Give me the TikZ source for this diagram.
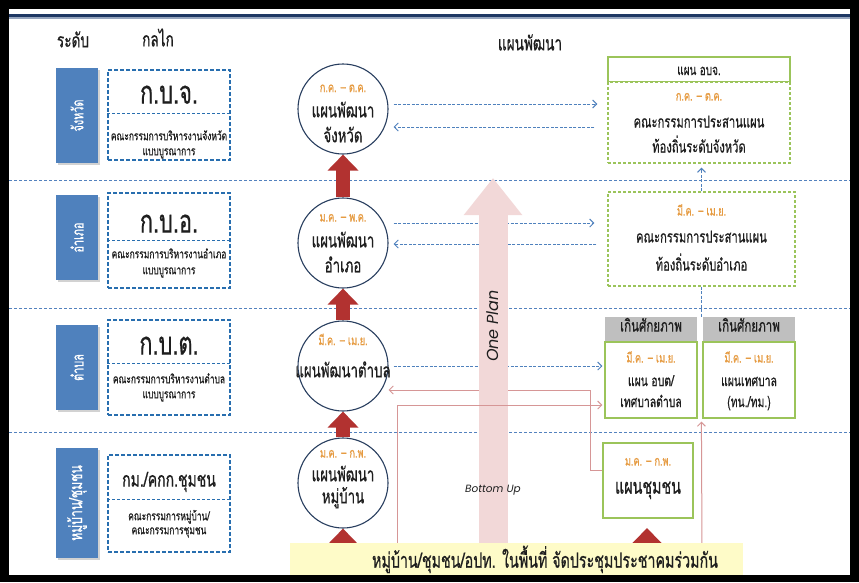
\documentclass[tikz,border=0pt]{standalone}
\usepackage{fontspec}
\setmainfont{Loma}[Script=Thai]
\newfontfamily\cnd{Loma}[Script=Thai,FakeStretch=0.68,FakeBold=0.6]
\newfontfamily\latfont{Poppins}
\usetikzlibrary{arrows.meta,calc,shadows}
\definecolor{navy}{RGB}{31,56,100}
\definecolor{navyl}{RGB}{150,165,190}
\definecolor{sepc}{RGB}{84,130,190}
\definecolor{sideb}{RGB}{79,129,189}
\definecolor{mechc}{RGB}{40,110,175}
\definecolor{circc}{RGB}{40,62,95}
\definecolor{datec}{RGB}{230,155,65}
\definecolor{greenc}{RGB}{155,196,90}
\definecolor{greyc}{RGB}{191,191,191}
\definecolor{redc}{RGB}{178,50,48}
\definecolor{pinkbig}{RGB}{242,216,216}
\definecolor{pinkln}{RGB}{214,150,150}
\definecolor{flowc}{RGB}{79,129,189}
\definecolor{yelc}{RGB}{254,251,200}
\definecolor{textc}{RGB}{30,30,30}
\pgfdeclarelayer{bgzero}
\pgfdeclarelayer{bgone}
\pgfsetlayers{bgzero,bgone,main}
\begin{document}
\begin{tikzpicture}[x=1pt,y=-1pt,
  every node/.style={inner sep=0pt, text=textc},
  tx/.style={anchor=base, font=\cnd\fontsize{#1}{#1}\selectfont},
  dt/.style={anchor=base, text=datec, font=\cnd\fontsize{#1}{#1}\selectfont},
  sep/.style={draw=sepc, dash pattern=on 3pt off 2pt, line width=0.9pt},
  sidebox/.style={fill=sideb, minimum width=42pt, text=white,
     drop shadow={shadow xshift=1.5pt, shadow yshift=-2pt, opacity=0.35}},
  mechbox/.style={draw=mechc, dash pattern=on 4pt off 2pt, line width=1.4pt, minimum width=122pt},
  mechdiv/.style={draw=mechc, dash pattern=on 3pt off 2pt, line width=0.9pt},
  plancirc/.style={circle, draw=circc, line width=1.1pt, fill=white, minimum size=90pt},
  gdash/.style={draw=greenc, dash pattern=on 3pt off 2pt, line width=1.2pt, fill=white},
  gsolid/.style={draw=greenc, line width=1.2pt, fill=white},
  greyhead/.style={fill=greyc, minimum width=92pt, minimum height=25pt},
  bflow/.style={draw=flowc, dash pattern=on 3pt off 1.5pt, line width=1pt, -{Straight Barb[length=4pt,width=8pt]}},
  pflow/.style={draw=pinkln, line width=1pt, -{Straight Barb[length=4pt,width=8pt]}},
  uparrow/.style={draw=redc, line width=14pt, -{Triangle[length=16pt,width=30pt]}},
]
\useasboundingbox (0,0) rectangle (859,582);

% ---------- nodes ----------
\node[tx=20] (hlevel) at (73,47.4) {ระดับ};
\node[tx=20] (hmech) at (158,46.4) {กลไก};
\node[tx=20] (hplan) at (530,50.4) {แผนพัฒนา};

% side level boxes
\node[sidebox, minimum height=95pt, font=\cnd\fontsize{16}{16}\selectfont] (s1) at (77,115.5) {\rotatebox{90}{จังหวัด}};
\node[sidebox, minimum height=85pt, font=\cnd\fontsize{16}{16}\selectfont] (s2) at (77,237.5) {\rotatebox{90}{อำเภอ}};
\node[sidebox, minimum height=85pt, font=\cnd\fontsize{16}{16}\selectfont] (s3) at (77,367.5) {\rotatebox{90}{ตำบล}};
\node[sidebox, minimum height=110pt, font=\cnd\fontsize{18}{18}\selectfont] (s4) at (77,503) {\rotatebox{90}{หมู่บ้าน/ชุมชน}};

% mechanism boxes
\node[mechbox, minimum height=90pt] (m1) at (169,115) {};
\node[mechbox, minimum height=95pt] (m2) at (169,240.5) {};
\node[mechbox, minimum height=95pt] (m3) at (169,367.5) {};
\node[mechbox, minimum height=97pt] (m4) at (169,503.5) {};
\draw[mechdiv] (m1.west |- 0,113) -- (m1.east |- 0,113);
\draw[mechdiv] (m2.west |- 0,240) -- (m2.east |- 0,240);
\draw[mechdiv] (m3.west |- 0,363) -- (m3.east |- 0,363);
\draw[mechdiv] (m4.west |- 0,499) -- (m4.east |- 0,499);
\node[tx=32] (m1t) at (169,103.6) {ก.บ.จ.};
\node[tx=32] (m2t) at (169,232.6) {ก.บ.อ.};
\node[tx=32] (m3t) at (169,354.6) {ก.บ.ต.};
\node[tx=20.6] (m4t) at (169,486.6) {กม./คกก.ชุมชน};
\node[tx=12.4] (m1a) at (169,140.3) {คณะกรรมการบริหารงานจังหวัด};
\node[tx=12.4] (m1b) at (169,155.3) {แบบบูรณาการ};
\node[tx=12.4] (m2a) at (169,258.3) {คณะกรรมการบริหารงานอำเภอ};
\node[tx=12.4] (m2b) at (169,274.3) {แบบบูรณาการ};
\node[tx=12.4] (m3a) at (169,383.3) {คณะกรรมการบริหารงานตำบล};
\node[tx=12.4] (m3b) at (169,398.3) {แบบบูรณาการ};
\node[tx=12.4] (m4a) at (169,520.3) {คณะกรรมการหมู่บ้าน/};
\node[tx=12.4] (m4b) at (169,534.3) {คณะกรรมการชุมชน};

% plan circles
\node[plancirc] (c1) at (343,109) {};
\node[plancirc] (c2) at (343,243) {};
\node[plancirc] (c3) at (343,366) {};
\node[plancirc] (c4) at (343,483) {};
\node[dt=13.5] (c1d) at (343,92.1) {ก.ค. – ต.ค.};
\node[tx=19.5] (c1a) at (343,117.3) {แผนพัฒนา};
\node[tx=19.5] (c1b) at (343,142.3) {จังหวัด};
\node[dt=13.5] (c2d) at (343,221.6) {ม.ค. – พ.ค.};
\node[tx=19.5] (c2a) at (343,247.3) {แผนพัฒนา};
\node[tx=19.5] (c2b) at (343,272.3) {อำเภอ};
\node[dt=13.5] (c3d) at (343,345.1) {มี.ค. – เม.ย.};
\node[tx=19.5] (c3a) at (343,377.3) {แผนพัฒนาตำบล};
\node[dt=13.5] (c4d) at (343,457.6) {ม.ค. – ก.พ.};
\node[tx=19.5] (c4a) at (343,481.3) {แผนพัฒนา};
\node[tx=19.5] (c4b) at (343,503.3) {หมู่บ้าน};

% right-hand plan boxes
\node[gsolid, minimum width=182pt, minimum height=25pt] (pjh) at (699,69.5) {};
\node[gdash, minimum width=182pt, minimum height=81pt] (pjb) at (699,122.5) {};
\node[tx=14.7] (pjht) at (699,75) {แผน อบจ.};
\node[dt=13.5] (pjd) at (699,100.6) {ก.ค. – ต.ค.};
\node[tx=16.5] (pja) at (699,127.5) {คณะกรรมการประสานแผน};
\node[tx=16.5] (pjc) at (699,152.5) {ท้องถิ่นระดับจังหวัด};

\node[gdash, minimum width=187pt, minimum height=94pt] (pab) at (701.5,239) {};
\node[dt=13.5] (pad) at (701.5,215.6) {มี.ค. – เม.ย.};
\node[tx=16.5] (paa) at (701.5,242.5) {คณะกรรมการประสานแผน};
\node[tx=16.5] (pac) at (701.5,270.5) {ท้องถิ่นระดับอำเภอ};

\node[greyhead] (t1h) at (651,329.5) {};
\node[greyhead] (t2h) at (749,329.5) {};
\node[tx=17] (t1ht) at (651,331.6) {เกินศักยภาพ};
\node[tx=17] (t2ht) at (749,331.6) {เกินศักยภาพ};
\node[gsolid, minimum width=92pt, minimum height=76pt] (t1b) at (651,380) {};
\node[gsolid, minimum width=92pt, minimum height=76pt] (t2b) at (749,380) {};
\node[dt=13.5] (t1d) at (651,362.6) {มี.ค. – เม.ย.};
\node[tx=15.3] (t1a) at (651,386.1) {แผน อบต/};
\node[tx=15.3] (t1c) at (651,407.1) {เทศบาลตำบล};
\node[dt=13.5] (t2d) at (749,362.6) {มี.ค. – เม.ย.};
\node[tx=15.3] (t2a) at (749,386.1) {แผนเทศบาล};
\node[tx=15.3] (t2c) at (749,407.1) {(ทน./ทม.)};

\node[gsolid, minimum width=90pt, minimum height=75pt] (cm) at (648,480.5) {};
\node[dt=13.5] (cmd) at (648,465.6) {ม.ค. – ก.พ.};
\node[tx=21] (cma) at (648,493.7) {แผนชุมชน};

% centre labels
\node[anchor=center, rotate=90, font=\latfont\itshape\fontsize{16}{16}\selectfont] (oneplan) at (493,326) {One Plan};
\node[anchor=center, font=\latfont\itshape\fontsize{10.5}{10.5}\selectfont] (bup) at (493,490) {Bottom Up};

% bottom band
\node[fill=yelc, minimum width=453pt, minimum height=32pt] (yel) at (516.5,559) {};
\node[tx=21] (yelt) at (545,567.7) {หมู่บ้าน/ชุมชน/อปท. ในพื้นที่ จัดประชุมประชาคมร่วมกัน};

% ---------- layer 0: frame, separators, flows ----------
\begin{pgfonlayer}{bgzero}
\fill[black] (0,0) rectangle (859,582);
\fill[white] (9,9) rectangle (850,575);
\fill[navy] (9,13.5) rectangle (850,17);
\fill[navyl] (9,17) rectangle (850,19);
\foreach \yy in {180,308,432} \draw[sep] (9,\yy) -- (850,\yy);
% blue dashed flows
\draw[bflow] ([xshift=5pt]c1.east |- 0,104) -- ([xshift=-10pt]pjb.west |- 0,104);
\draw[bflow] ([xshift=-13pt]pjb.west |- 0,127) -- ([xshift=5pt]c1.east |- 0,127);
\draw[bflow] ([xshift=5pt]c2.east |- 0,223) -- ([xshift=-13pt]pab.west |- 0,223);
\draw[bflow] ([xshift=-11pt]pab.west |- 0,244) -- ([xshift=5pt]c2.east |- 0,244);
\draw[bflow] ([xshift=5pt]c3.east |- 0,366) -- ([xshift=-2pt]t1b.west |- 0,366);
\draw[bflow] (pab.north) -- ([yshift=-4pt]pab.north |- pjb.south);
\draw[draw=flowc, dash pattern=on 3pt off 1.5pt, line width=1pt] (pab.south) -- (pab.south |- t1h.north);
% pink link from community plan back to tambon plan
\coordinate (pk1) at (590,390);
\draw[pflow] (cm.west |- 0,470) -| (pk1) -- (pk1 -| c3.east);
\end{pgfonlayer}

% ---------- layer 1: big arrow, links, red arrows ----------
\begin{pgfonlayer}{bgone}
\coordinate (opbase) at (493,548);
\coordinate (optip) at (493,178);
\draw[draw=pinkbig, line width=29pt, -{Triangle[length=37pt,width=56pt]}] (opbase) -- (optip);
\coordinate (pk2) at (397,548);
\draw[pflow] (pk2) |- ([xshift=-2pt]t1b.west |- 0,405);
\coordinate (pk3) at (702,548);
\draw[pflow] (pk3) -- ([xshift=-1pt,yshift=-3pt]t2b.south west);
\draw[uparrow] (c2.north) -- (c1.south);
\draw[uparrow] (c3.north) -- (c2.south);
\draw[uparrow] (c4.north) -- (c3.south);
\coordinate (ra0) at (343,555);
\draw[uparrow] (ra0) -- (c4.south);
\coordinate (ra1) at (647,555);
\coordinate (ra1t) at (647,528);
\draw[uparrow] (ra1) -- (ra1t);
\end{pgfonlayer}
\end{tikzpicture}
\end{document}
